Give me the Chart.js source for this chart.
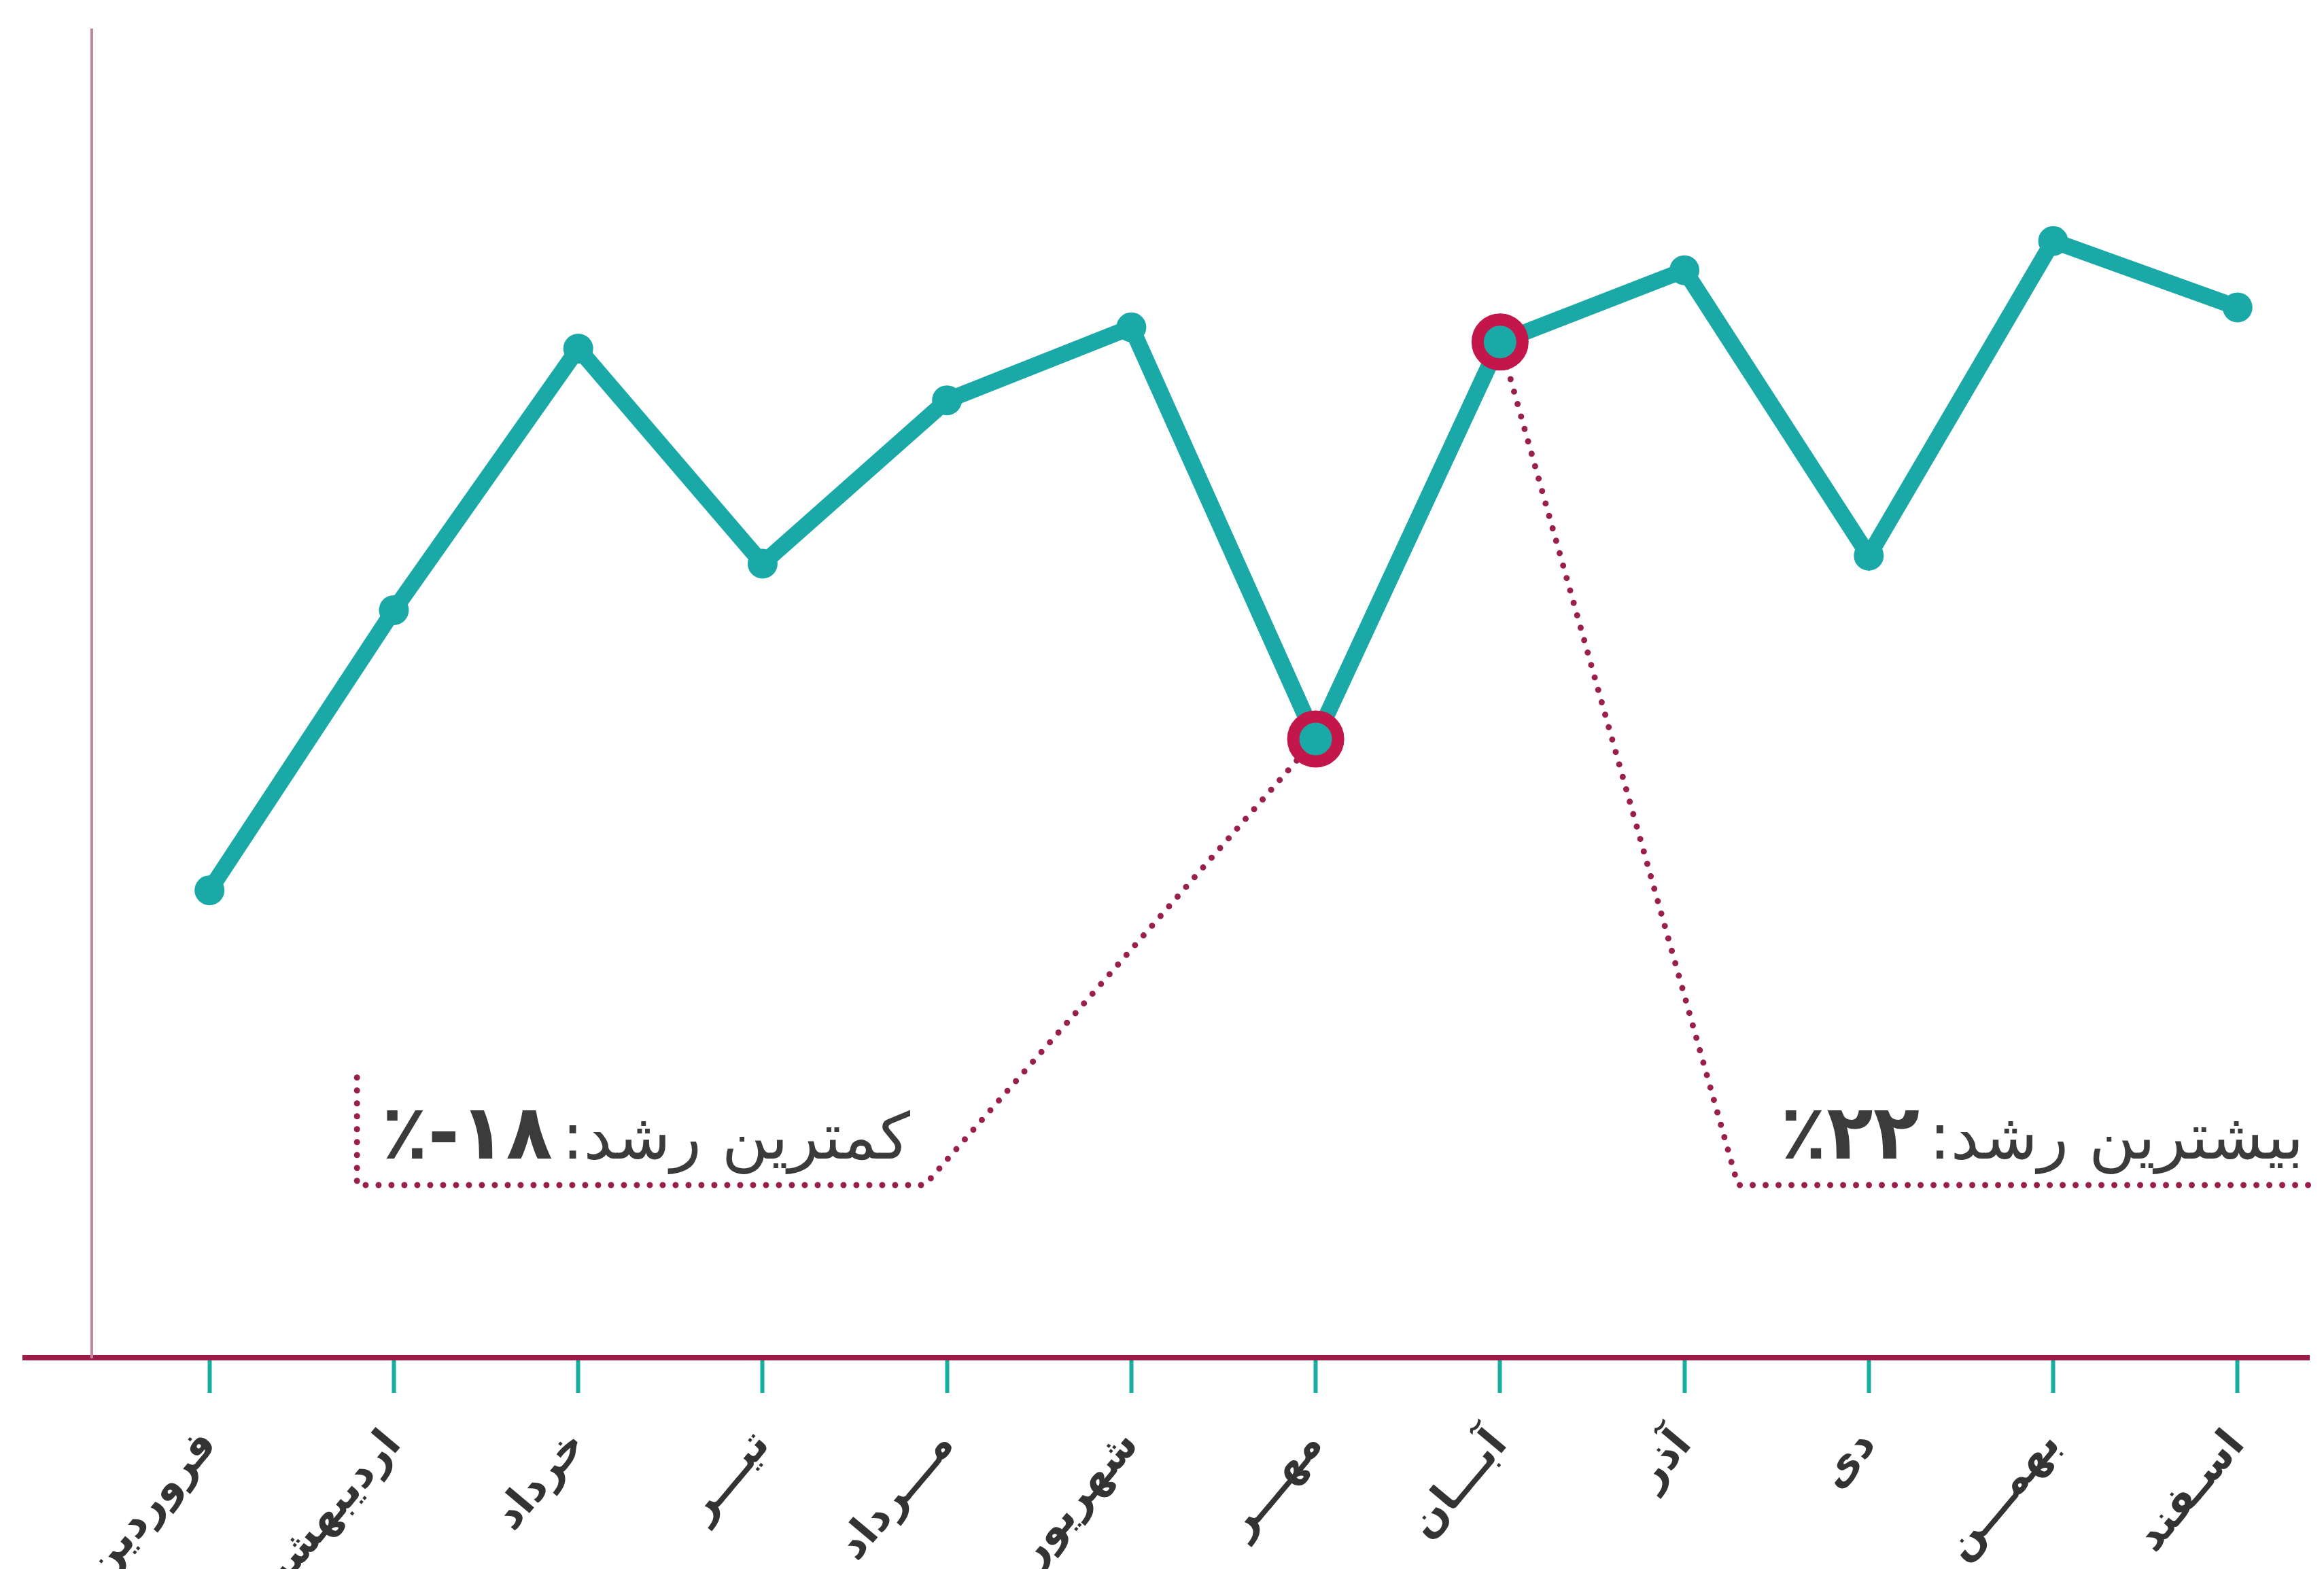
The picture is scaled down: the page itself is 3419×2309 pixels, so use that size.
<!DOCTYPE html>
<html lang="fa">
<head>
<meta charset="utf-8">
<script src="https://cdn.jsdelivr.net/npm/chart.js@4.4.1/dist/chart.umd.min.js"></script>
<style>
  html, body { margin: 0; padding: 0; background: #ffffff; overflow: hidden; }
  #wrap { position: relative; width: 100vw; height: 100vh; }
</style>
</head>
<body>
<div id="wrap"><canvas id="c"></canvas></div>
<script>
// ---- data ----
const months = ['فروردین', 'اردیبهشت', 'خرداد', 'تیـــر', 'مـــرداد', 'شهریور', 'مهـــر', 'آبـــان', 'آذر', 'دی', 'بهمـــن', 'اسـفند'];
const values = [35.2, 56.3, 76.0, 59.8, 72.1, 77.6, 46.6, 76.5, 81.9, 60.4, 84.1, 79.1];
const minMonthIndex = 6;
const maxMonthIndex = 7;
const minCaption = 'کمترین رشد:';
const minValueText = '٪-۱۸';
const maxCaption = 'بیشترین رشد:';
const maxValueText = '٪۲۲';

// ---- styles ----
const TEAL = '#1aa9a7';
const TICK_TEAL = '#17ae9f';
const CRIMSON = '#c3174b';
const AXIS_RED = '#9b1c48';
const YAXIS_PINK = '#c3879c';
const DOT_RED = '#9a1f4d';
const TEXT = '#3b3b3b';
const FONT = '"DejaVu Sans", "Noto Sans", sans-serif';

const isHighlight = (i) => i === minMonthIndex || i === maxMonthIndex;
const pointRadius = months.map((_, i) => isHighlight(i) ? 33 : 22);
const pointBorderWidth = months.map((_, i) => isHighlight(i) ? 18 : 0);
const pointBorderColor = months.map((_, i) => isHighlight(i) ? CRIMSON : TEAL);

const calloutPlugin = {
  id: 'callouts',
  beforeDatasetsDraw(chart) {
    const ctx = chart.ctx;
    const xs = chart.scales.x, ys = chart.scales.y;
    const pts = chart.getDatasetMeta(0).data;
    ctx.save();
    ctx.strokeStyle = DOT_RED;
    ctx.lineWidth = 9;
    ctx.lineCap = 'round';
    ctx.lineJoin = 'round';
    ctx.setLineDash([0, 19]);
    // minimum bracket
    ctx.beginPath();
    ctx.moveTo(xs.getPixelForValue(0.8), ys.getPixelForValue(21.1));
    ctx.lineTo(xs.getPixelForValue(0.8), ys.getPixelForValue(13.0));
    ctx.lineTo(xs.getPixelForValue(3.88), ys.getPixelForValue(13.0));
    ctx.lineTo(pts[minMonthIndex].x, pts[minMonthIndex].y);
    ctx.stroke();
    // maximum bracket
    ctx.beginPath();
    ctx.moveTo(pts[maxMonthIndex].x, pts[maxMonthIndex].y);
    ctx.lineTo(xs.getPixelForValue(8.29), ys.getPixelForValue(13.0));
    ctx.lineTo(xs.getPixelForValue(xs.max), ys.getPixelForValue(13.0));
    ctx.stroke();
    ctx.restore();
  },
  afterDraw(chart) {
    const ctx = chart.ctx;
    const xs = chart.scales.x, ys = chart.scales.y;
    const base = ys.getPixelForValue(15.0);
    const drawCallout = (caption, valueText, rightValue) => {
      ctx.save();
      ctx.fillStyle = TEXT;
      ctx.textBaseline = 'alphabetic';
      ctx.font = '400 94px ' + FONT;
      ctx.direction = 'rtl';
      ctx.textAlign = 'right';
      const rx = xs.getPixelForValue(rightValue);
      ctx.fillText(caption, rx, base);
      const w = ctx.measureText(caption).width;
      ctx.font = '700 112px ' + FONT;
      ctx.direction = 'ltr';
      ctx.textAlign = 'right';
      ctx.fillText(valueText, rx - w - 14, base);
      ctx.restore();
    };
    drawCallout(minCaption, minValueText, 3.8);
    drawCallout(maxCaption, maxValueText, 11.36);
  }
};

const ctx = document.getElementById('c').getContext('2d');
new Chart(ctx, {
  type: 'line',
  data: {
    datasets: [{
      data: values.map((v, i) => ({ x: i, y: v })),
      borderColor: TEAL,
      borderWidth: 24,
      tension: 0,
      fill: false,
      pointRadius: pointRadius,
      pointHoverRadius: pointRadius,
      pointBackgroundColor: TEAL,
      pointBorderColor: pointBorderColor,
      pointBorderWidth: pointBorderWidth,
      clip: false
    }]
  },
  options: {
    responsive: true,
    maintainAspectRatio: false,
    animation: false,
    events: [],
    layout: { padding: { top: 44, left: 37, right: 0, bottom: 0 } },
    plugins: { legend: { display: false }, tooltip: { enabled: false } },
    scales: {
      x: {
        type: 'linear',
        min: -1,
        max: 11.388,
        afterBuildTicks: (s) => { s.ticks = months.map((_, i) => ({ value: i })); },
        afterFit: (s) => { s.height = 311; },
        ticks: {
          autoSkip: false,
          minRotation: 50,
          maxRotation: 50,
          padding: 42,
          color: '#333333',
          font: { family: FONT, size: 62, weight: 'bold' },
          callback: (v) => months[v] !== undefined ? months[v] : ''
        },
        grid: {
          drawOnChartArea: false,
          drawTicks: true,
          tickLength: 52,
          tickWidth: 6,
          tickColor: TICK_TEAL
        },
        border: { display: true, color: AXIS_RED, width: 8 }
      },
      y: {
        min: 0,
        max: 100,
        position: { x: -0.637 },
        afterFit: (s) => { s.width = 0; },
        ticks: { display: false },
        grid: { display: true, drawOnChartArea: false, drawTicks: false, color: 'rgba(0,0,0,0)' },
        border: { display: true, color: YAXIS_PINK, width: 4 }
      }
    }
  },
  plugins: [calloutPlugin]
});
</script>
</body>
</html>
